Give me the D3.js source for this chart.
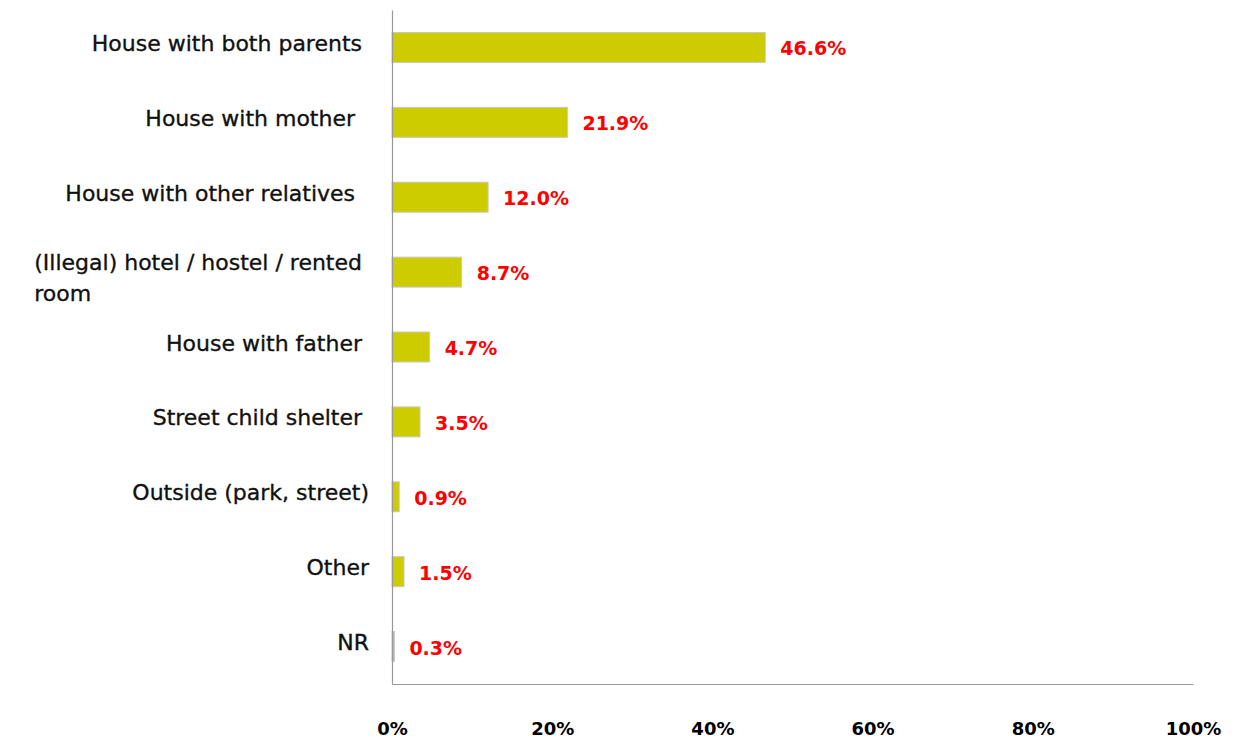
<!DOCTYPE html>
<html>
<head>
<meta charset="utf-8">
<script src="https://cdn.jsdelivr.net/npm/d3@7"></script>
<style>
  html, body { margin: 0; padding: 0; background: #fff; }
  svg { display: block; }
  .cat { white-space: pre; }
</style>
</head>
<body>
<svg id="chart" width="1234" height="742"></svg>
<script>
// Where respondents sleep, share of answers
const categories = [
  "House with both parents ",
  "House with mother  ",
  "House with other relatives  ",
  "(Illegal) hotel / hostel / rented |room",
  "House with father ",
  "Street child shelter ",
  "Outside (park, street)",
  "Other",
  "NR"
];
const values = [46.6, 21.9, 12.0, 8.7, 4.7, 3.5, 0.9, 1.5, 0.3];
const tickValues = [0, 20, 40, 60, 80, 100];

const svg = d3.select("#chart");
const margin = { left: 392, right: 41, top: 10, bottom: 58 };
const width = 1234, height = 742;

const x = d3.scaleLinear().domain([0, 100]).range([margin.left, width - margin.right]);
const y = d3.scaleBand().domain(categories).range([margin.top, height - margin.bottom])
  .paddingInner(0.6).paddingOuter(0.3);

// bars
svg.append("g").selectAll("rect")
  .data(categories)
  .join("rect")
  .attr("x", x(0))
  .attr("y", d => y(d))
  .attr("width", (d, i) => x(values[i]) - x(0))
  .attr("height", y.bandwidth())
  .attr("fill", "#cccc00")
  .attr("stroke", "#c8c8c8")
  .attr("stroke-width", 1);

// value labels
svg.append("g").selectAll("text")
  .data(categories)
  .join("text")
  .attr("x", (d, i) => x(values[i]) + 15)
  .attr("y", d => y(d) + y.bandwidth() / 2 + 1)
  .attr("dominant-baseline", "central")
  .attr("font-family", "DejaVu Sans")
  .attr("font-weight", "bold")
  .attr("font-size", 19)
  .attr("fill", "#ff0000")
  .text((d, i) => values[i].toFixed(1) + "%");

// axes
const xAxis = d3.axisBottom(x).tickValues(tickValues).tickSize(0).tickFormat(d => d + "%");
const gx = svg.append("g").attr("transform", `translate(0,${height - margin.bottom})`).call(xAxis);
gx.select(".domain").attr("stroke", "#999").attr("stroke-width", 1.2);
gx.selectAll("text")
  .attr("dy", 0)
  .attr("y", 44)
  .attr("dominant-baseline", "central")
  .attr("font-family", "DejaVu Sans")
  .attr("font-weight", "bold")
  .attr("font-size", 18)
  .attr("fill", "#000");

const yAxis = d3.axisLeft(y).tickSize(0).tickFormat(() => "");
const gy = svg.append("g").attr("transform", `translate(${margin.left},0)`).call(yAxis);
gy.select(".domain").attr("stroke", "#999").attr("stroke-width", 1.2);

// category labels (right-aligned, wrapped lines keep the first line's left edge)
const labelRight = 369;
const labels = svg.append("g")
  .attr("font-family", "DejaVu Sans")
  .attr("font-size", 22)
  .attr("fill", "#111")
  .attr("stroke", "#111")
  .attr("stroke-width", 0.35);
categories.forEach(c => {
  const lines = c.split("|");
  const cy = y(c) + y.bandwidth() / 2;
  if (lines.length === 1) {
    labels.append("text").attr("class", "cat")
      .attr("x", labelRight)
      .attr("y", cy - 4)
      .attr("dominant-baseline", "central")
      .attr("text-anchor", "end")
      .text(lines[0]);
  } else {
    const t1 = labels.append("text").attr("class", "cat")
      .attr("x", labelRight)
      .attr("y", cy - 9.5)
      .attr("dominant-baseline", "central")
      .attr("text-anchor", "end")
      .text(lines[0]);
    const w = t1.node().getComputedTextLength();
    labels.append("text").attr("class", "cat")
      .attr("x", labelRight - w)
      .attr("y", cy + 21.5)
      .attr("dominant-baseline", "central")
      .text(lines[1]);
  }
});
</script>
</body>
</html>
